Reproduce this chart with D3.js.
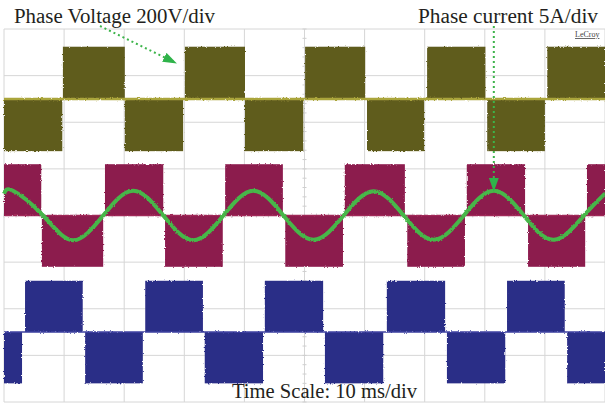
<!DOCTYPE html>
<html>
<head>
<meta charset="utf-8">
<script src="https://cdn.jsdelivr.net/npm/d3@7"></script>
<style>
  body { margin: 0; background: #fff; }
  text { font-family: "Liberation Serif", "Times New Roman", serif; fill: #231f20; }
</style>
</head>
<body>
<svg id="scope"></svg>
<script>
var w = 605;
var h = 406;

// time axis: 10 ms/div, 10 divisions
var timeDomain = [0, 100];
var divDomain = [-4, 4];

// square-wave half cycles: [start ms, end ms, +1 / -1]
var phaseA = [[0, 9.7, -1], [9.8, 20.1, 1], [20.1, 29.8, -1], [30.1, 40.1, 1], [40.1, 49.8, -1],
              [50.1, 60.1, 1], [60.4, 69.9, -1], [70.4, 80.1, 1], [80.4, 90, -1], [90.4, 100, 1]];
var phaseB = [[0, 6.2, 1], [6.3, 16.5, -1], [16.8, 26.5, 1], [26.8, 36.4, -1], [36.8, 46.4, 1],
              [46.8, 56.4, -1], [56.7, 66.7, 1], [67.1, 76.7, -1], [77, 86.7, 1], [87.2, 96.7, -1], [97, 100, 1]];
var phaseC = [[0, 3, -1], [3.5, 13.1, 1], [13.5, 23.1, -1], [23.5, 33.1, 1], [33.4, 43.1, -1],
              [43.4, 53.1, 1], [53.4, 63.1, -1], [63.7, 73.4, 1], [73.7, 83.4, -1], [83.7, 93.3, 1], [93.7, 100, -1]];

// trace offsets and heights in divisions
var phaseOffset = [2.5, 0, -2.5];
var phaseAmp = [1.12, 1.1, 1.1];
var phaseFill = ["#5f5b1f", "#8c1a4d", "#2c2e87"];
var phaseZero = ["#aaa53a", "#a02a58", "#3e42a0"];

// phase current (divisions, 5 A/div)
var currentT = [0, 1.5, 6.5, 11.5, 16.5, 21.5, 26.5, 31.5, 36.5, 41.5, 46.5, 51.5,
                56.5, 61.5, 66.5, 71.5, 76.5, 81.5, 86.5, 91.5, 96.5, 100];
var currentV = [0.47, 0.53, 0, -0.53, 0, 0.53, 0, -0.53, 0, 0.53, 0, -0.52,
                0, 0.52, 0, -0.52, 0, 0.53, 0, -0.52, 0, 0.47];

var x = d3.scaleLinear().domain(timeDomain).range([4, 605]);
var y = d3.scaleLinear().domain(divDomain).range([402, 29]);

var svg = d3.select("#scope")
    .attr("width", w)
    .attr("height", h);

svg.append("rect").attr("width", w).attr("height", h).attr("fill", "#fff");

var defs = svg.append("defs");
var rough = defs.append("filter").attr("id", "rough")
    .attr("x", "-2%").attr("y", "-5%").attr("width", "104%").attr("height", "110%");
rough.append("feTurbulence").attr("type", "fractalNoise")
    .attr("baseFrequency", "0.7").attr("numOctaves", 2).attr("seed", 4).attr("result", "noise");
rough.append("feDisplacementMap").attr("in", "SourceGraphic").attr("in2", "noise")
    .attr("scale", 2.5).attr("xChannelSelector", "R").attr("yChannelSelector", "G");

defs.append("marker").attr("id", "head")
    .attr("viewBox", "0 0 14 10").attr("refX", 13).attr("refY", 5)
    .attr("markerWidth", 14).attr("markerHeight", 10)
    .attr("markerUnits", "userSpaceOnUse")
    .attr("orient", "auto")
    .append("path").attr("d", "M0,0L14,5L0,10Z").attr("fill", "#2fb34a");

//grid
var grid = svg.append("g");
grid.selectAll("line.v")
    .data(d3.range(timeDomain[0], timeDomain[1] + 1, 10))
    .enter().append("line")
    .attr("x1", function (d) { return x(d); })
    .attr("x2", function (d) { return x(d); })
    .attr("y1", y(4)).attr("y2", y(-4))
    .style("stroke", "#d6d6d6").style("stroke-width", 1);
grid.selectAll("line.h")
    .data(d3.range(divDomain[0], divDomain[1] + 1, 1))
    .enter().append("line")
    .attr("y1", function (d) { return y(d); })
    .attr("y2", function (d) { return y(d); })
    .attr("x1", x(0)).attr("x2", x(100))
    .style("stroke", "#d6d6d6").style("stroke-width", 1);

// minor ticks on the centre lines
grid.selectAll("line.tv")
    .data(d3.range(-4, 4.01, 0.2))
    .enter().append("line")
    .attr("x1", x(50) - 2).attr("x2", x(50) + 2)
    .attr("y1", function (d) { return y(d); })
    .attr("y2", function (d) { return y(d); })
    .style("stroke", "#cfcfcf");
grid.selectAll("line.th")
    .data(d3.range(0, 100.01, 2))
    .enter().append("line")
    .attr("y1", y(0) - 2).attr("y2", y(0) + 2)
    .attr("x1", function (d) { return x(d); })
    .attr("x2", function (d) { return x(d); })
    .style("stroke", "#cfcfcf");

//voltage traces
[phaseA, phaseB, phaseC].forEach(function (segs, i) {
    var g = svg.append("g").attr("filter", "url(#rough)");
    g.selectAll("rect")
        .data(segs)
        .enter().append("rect")
        .attr("x", function (d) { return x(d[0]); })
        .attr("width", function (d) { return x(d[1]) - x(d[0]); })
        .attr("y", function (d) {
            return d[2] > 0 ? y(phaseOffset[i] + phaseAmp[i]) : y(phaseOffset[i]);
        })
        .attr("height", function (d) { return y(phaseOffset[i]) - y(phaseOffset[i] + phaseAmp[i]); })
        .attr("fill", phaseFill[i]);
    g.append("line")
        .attr("x1", x(0)).attr("x2", x(100))
        .attr("y1", y(phaseOffset[i])).attr("y2", y(phaseOffset[i]))
        .style("stroke", phaseZero[i]).style("stroke-width", i === 0 ? 2.5 : 1.5);
});

//current trace
var currentLine = d3.line()
    .x(function (d, i) { return x(currentT[i]); })
    .y(function (d) { return y(d); })
    .curve(d3.curveNatural);
svg.append("path")
    .attr("d", currentLine(currentV))
    .attr("fill", "none")
    .attr("stroke", "#47b749")
    .attr("stroke-width", 4)
    .attr("filter", "url(#rough)");

//annotations
svg.append("text").attr("x", 14).attr("y", 23)
    .attr("textLength", 201).attr("lengthAdjust", "spacingAndGlyphs")
    .style("font-size", "20px").text("Phase Voltage 200V/div");
svg.append("text").attr("x", 418).attr("y", 23)
    .attr("textLength", 180).attr("lengthAdjust", "spacingAndGlyphs")
    .style("font-size", "20px").text("Phase current 5A/div");
svg.append("text").attr("x", 232).attr("y", 398)
    .attr("textLength", 185).attr("lengthAdjust", "spacingAndGlyphs")
    .style("font-size", "20px").text("Time Scale: 10 ms/div");
svg.append("text").attr("x", 575).attr("y", 37)
    .style("font-size", "8px").style("text-decoration", "underline")
    .style("fill", "#444").text("LeCroy");

svg.append("line")
    .attr("x1", 100).attr("y1", 26).attr("x2", 176).attr("y2", 63)
    .attr("stroke", "#3cb44a").attr("stroke-width", 2)
    .attr("stroke-dasharray", "2,3")
    .attr("marker-end", "url(#head)");
svg.append("line")
    .attr("x1", x(81.5)).attr("y1", 26).attr("x2", x(81.5)).attr("y2", y(currentV[17]))
    .attr("stroke", "#3cb44a").attr("stroke-width", 2)
    .attr("stroke-dasharray", "2,3")
    .attr("marker-end", "url(#head)");
</script>
</body>
</html>
